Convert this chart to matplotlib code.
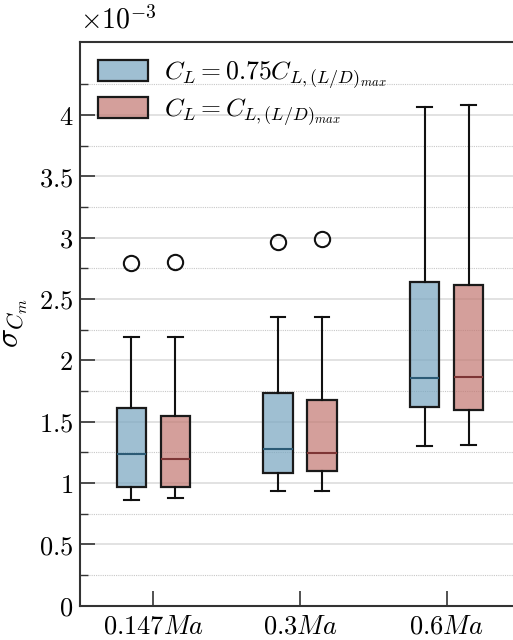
import matplotlib
matplotlib.use("Agg")
import matplotlib.pyplot as plt
from matplotlib.patches import Patch
from matplotlib.ticker import FixedLocator, FuncFormatter

plt.rcParams['mathtext.fontset'] = 'cm'
plt.rcParams['font.family'] = ['DejaVu Serif']

categories = [r'$0.147Ma$', r'$0.3Ma$', r'$0.6Ma$']
series_labels = [r'$C_L = 0.75C_{L,(L/D)_{max}}$', r'$C_L = C_{L,(L/D)_{max}}$']
ytick_values = [0, 0.5, 1, 1.5, 2, 2.5, 3, 3.5, 4]
yminor_values = [0.25, 0.75, 1.25, 1.75, 2.25, 2.75, 3.25, 3.75, 4.25]

# values in units of 1e-3
blue_whislo = [0.861, 0.931, 1.303]
blue_q1     = [0.964, 1.083, 1.616]
blue_med    = [1.238, 1.279, 1.857]
blue_q3     = [1.610, 1.735, 2.642]
blue_whishi = [2.186, 2.354, 4.065]
blue_fliers = [[2.79], [2.965], []]

red_whislo = [0.877, 0.931, 1.312]
red_q1     = [0.969, 1.094, 1.594]
red_med    = [1.198, 1.244, 1.860]
red_q3     = [1.542, 1.675, 2.612]
red_whishi = [2.190, 2.354, 4.084]
red_fliers = [[2.80], [2.987], []]

scale = 1e-3

fig = plt.figure(figsize=(5.13, 6.40), dpi=100)
ax = fig.add_axes([80/513, 34.5/640, 440/513, 564/640])

series = [
    (blue_whislo, blue_q1, blue_med, blue_q3, blue_whishi, blue_fliers,
     (0.467, 0.647, 0.753, 0.7), '#2b5a75', -0.15),
    (red_whislo, red_q1, red_med, red_q3, red_whishi, red_fliers,
     (0.759, 0.467, 0.445, 0.7), '#7d3535', 0.15),
]

for wl, q1, med, q3, wh, fl, fc, mc, off in series:
    stats = []
    for i in range(len(categories)):
        stats.append(dict(whislo=wl[i]*scale, q1=q1[i]*scale, med=med[i]*scale,
                          q3=q3[i]*scale, whishi=wh[i]*scale,
                          fliers=[f*scale for f in fl[i]]))
    pos = [i + off for i in range(len(categories))]
    ax.bxp(stats, positions=pos, widths=0.2, patch_artist=True,
           showfliers=True,
           boxprops=dict(facecolor=fc, edgecolor='#1a1a1a', linewidth=1.6),
           medianprops=dict(color=mc, linewidth=1.5),
           whiskerprops=dict(color='#111111', linewidth=1.5),
           capprops=dict(color='#111111', linewidth=1.5),
           flierprops=dict(marker='o', markerfacecolor='none', markeredgecolor='#111111',
                           markersize=11, markeredgewidth=1.5),
           zorder=3)

ax.set_xlim(-0.5, 2.5)
ax.set_ylim(0, 4.6e-3)
ax.set_xticks(range(len(categories)))
ax.set_xticklabels(categories, fontsize=19)

ax.yaxis.set_major_locator(FixedLocator([v*scale for v in ytick_values]))
ax.yaxis.set_minor_locator(FixedLocator([v*scale for v in yminor_values]))
def fmt(v, p):
    s = f"{v/scale:g}"
    return f"${s}$"
ax.yaxis.set_major_formatter(FuncFormatter(fmt))
ax.tick_params(axis='y', which='major', labelsize=19, direction='in', length=11, width=1.2, color='#333333', pad=5)
ax.tick_params(axis='y', which='minor', direction='in', length=6, width=1.0, color='#333333')
ax.tick_params(axis='x', which='major', labelsize=19, direction='in', length=11, width=1.2, color='#333333', pad=6)
ax.tick_params(axis='x', which='minor', bottom=False)

ax.grid(True, which='major', axis='y', color='#dddddd', linewidth=1.2, zorder=0)
ax.grid(True, which='minor', axis='y', color='#c8c8c8', linewidth=0.8, linestyle=(0, (1, 1)), zorder=0)
ax.set_axisbelow(True)

for s in ['left', 'bottom', 'top']:
    ax.spines[s].set_color('#333333')
    ax.spines[s].set_linewidth(1.5)
ax.spines['right'].set_visible(False)

ax.set_ylabel(r'$\sigma_{C_m}$', fontsize=23, labelpad=6)
ax.text(0.0, 1.012, r'$\times10^{-3}$', transform=ax.transAxes, fontsize=20,
        ha='left', va='bottom')

handles = [Patch(facecolor=series[0][6], edgecolor='#1a1a1a', linewidth=1.6),
           Patch(facecolor=series[1][6], edgecolor='#1a1a1a', linewidth=1.6)]
ax.legend(handles, series_labels, loc='upper left', fontsize=18.5, frameon=False,
          handlelength=1.95, handleheight=0.9, handletextpad=0.6,
          borderaxespad=0.3, labelspacing=0.2,
          bbox_to_anchor=(0.0, 1.0))

fig.savefig('out.png', dpi=100)
